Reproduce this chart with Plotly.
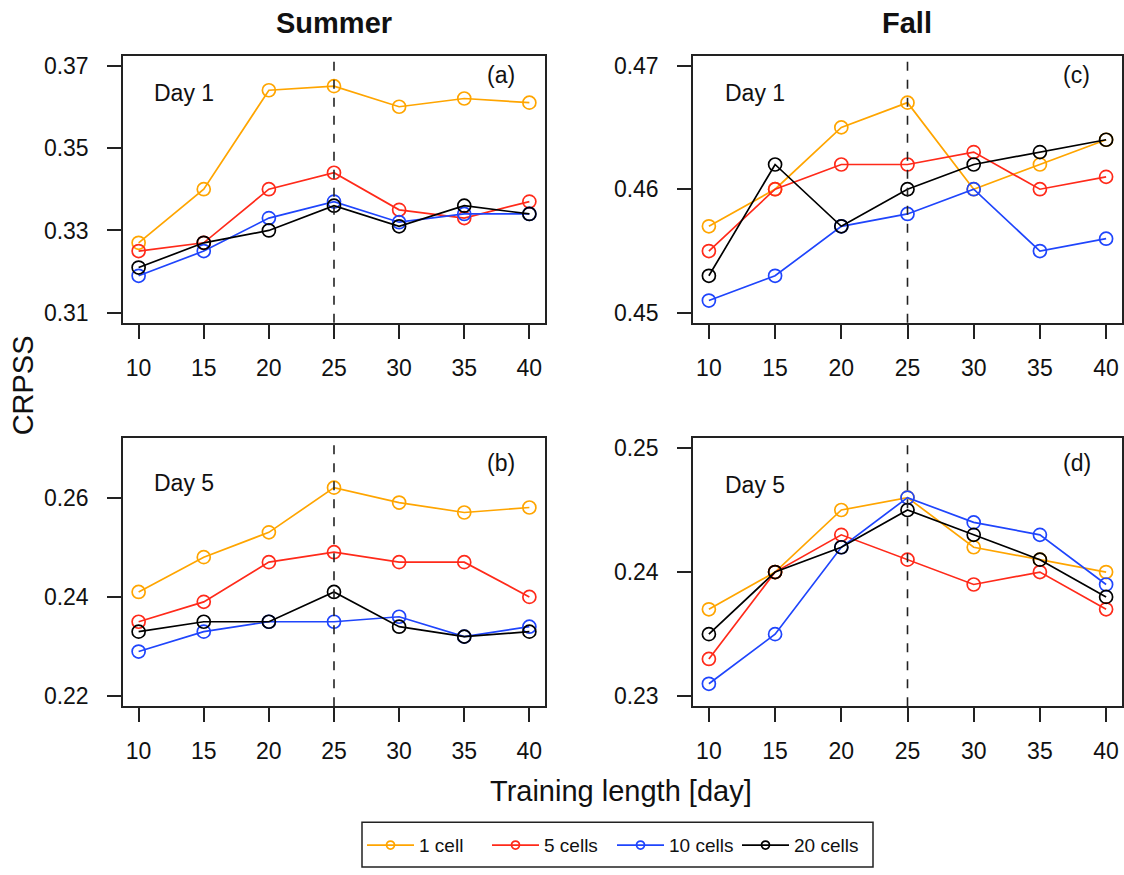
import plotly.graph_objects as go

training_days = [10, 15, 20, 25, 30, 35, 40]
series_names = ["1 cell", "5 cells", "10 cells", "20 cells"]
series_colors = ["#FFA500", "#FF2A1A", "#1F45FC", "#000000"]

# Summer, Day 1 (a)
summer_day1_1cell = [0.327, 0.340, 0.364, 0.365, 0.360, 0.362, 0.361]
summer_day1_5cells = [0.325, 0.327, 0.340, 0.344, 0.335, 0.333, 0.337]
summer_day1_10cells = [0.319, 0.325, 0.333, 0.337, 0.332, 0.334, 0.334]
summer_day1_20cells = [0.321, 0.327, 0.330, 0.336, 0.331, 0.336, 0.334]

# Summer, Day 5 (b)
summer_day5_1cell = [0.241, 0.248, 0.253, 0.262, 0.259, 0.257, 0.258]
summer_day5_5cells = [0.235, 0.239, 0.247, 0.249, 0.247, 0.247, 0.240]
summer_day5_10cells = [0.229, 0.233, 0.235, 0.235, 0.236, 0.232, 0.234]
summer_day5_20cells = [0.233, 0.235, 0.235, 0.241, 0.234, 0.232, 0.233]

# Fall, Day 1 (c)
fall_day1_1cell = [0.457, 0.460, 0.465, 0.467, 0.460, 0.462, 0.464]
fall_day1_5cells = [0.455, 0.460, 0.462, 0.462, 0.463, 0.460, 0.461]
fall_day1_10cells = [0.451, 0.453, 0.457, 0.458, 0.460, 0.455, 0.456]
fall_day1_20cells = [0.453, 0.462, 0.457, 0.460, 0.462, 0.463, 0.464]

# Fall, Day 5 (d)
fall_day5_1cell = [0.237, 0.240, 0.245, 0.246, 0.242, 0.241, 0.240]
fall_day5_5cells = [0.233, 0.240, 0.243, 0.241, 0.239, 0.240, 0.237]
fall_day5_10cells = [0.231, 0.235, 0.242, 0.246, 0.244, 0.243, 0.239]
fall_day5_20cells = [0.235, 0.240, 0.242, 0.245, 0.243, 0.241, 0.238]

x_ticks = [10, 15, 20, 25, 30, 35, 40]
yticks_a = [0.31, 0.33, 0.35, 0.37]
yticks_b = [0.22, 0.24, 0.26]
yticks_c = [0.45, 0.46, 0.47]
yticks_d = [0.23, 0.24, 0.25]
best_training_length = 25

FONT = "Liberation Sans, Arial, sans-serif"
W, H = 1124, 875

panels = [
    ("a", [summer_day1_1cell, summer_day1_5cells, summer_day1_10cells, summer_day1_20cells],
     yticks_a, [0.3076, 0.3724], [123/W, 545/W], [1-322/H, 1-53/H], "Day 1", "(a)", 0.862, 0.926),
    ("b", [summer_day5_1cell, summer_day5_5cells, summer_day5_10cells, summer_day5_20cells],
     yticks_b, [0.218, 0.272], [123/W, 545/W], [1-708/H, 1-438/H], "Day 5", "(b)", 0.833, 0.907),
    ("c", [fall_day1_1cell, fall_day1_5cells, fall_day1_10cells, fall_day1_20cells],
     yticks_c, [0.4492, 0.4708], [693/W, 1122/W], [1-322/H, 1-53/H], "Day 1", "(c)", 0.862, 0.926),
    ("d", [fall_day5_1cell, fall_day5_5cells, fall_day5_10cells, fall_day5_20cells],
     yticks_d, [0.2292, 0.2508], [693/W, 1122/W], [1-708/H, 1-438/H], "Day 5", "(d)", 0.826, 0.907),
]

fig = go.Figure()
layout = {}
annotations = []
shapes = []

for i, (key, data, yt, yr, xdom, ydom, daylab, plab, dy, py) in enumerate(panels):
    n = i + 1
    xa = "x" if n == 1 else f"x{n}"
    ya = "y" if n == 1 else f"y{n}"
    for j, (name, color) in enumerate(zip(series_names, series_colors)):
        fig.add_trace(go.Scatter(
            x=training_days, y=data[j], mode="lines+markers", name=name,
            xaxis=xa, yaxis=ya, showlegend=False,
            line=dict(color=color, width=1.7),
            marker=dict(symbol="circle-open", size=13, color=color, line=dict(width=1.7, color=color)),
        ))
    axis_common = dict(
        showline=True, mirror=True, linecolor="#222", linewidth=1.5,
        ticks="outside", ticklen=14, tickwidth=1.5, tickcolor="#222",
        showgrid=False, zeroline=False,
        tickfont=dict(family=FONT, size=23, color="#111"),
    )
    layout["xaxis" if n == 1 else f"xaxis{n}"] = dict(
        axis_common, domain=xdom, range=[8.8, 41.2], tickvals=x_ticks,
        anchor=ya, ticklabelstandoff=10,
    )
    layout["yaxis" if n == 1 else f"yaxis{n}"] = dict(
        axis_common, domain=ydom, range=yr, tickvals=yt, tickformat=".2f",
        anchor=xa, ticklabelstandoff=14,
    )
    shapes.append(dict(type="line", xref=xa, yref=f"{ya} domain",
                       x0=best_training_length, x1=best_training_length, y0=0, y1=1,
                       line=dict(color="#222", width=1.6, dash="dash")))
    annotations.append(dict(text=daylab, xref=f"{xa} domain", yref=f"{ya} domain",
                            x=0.145, y=dy, showarrow=False, xanchor="center", yanchor="middle",
                            font=dict(family=FONT, size=23, color="#111")))
    annotations.append(dict(text=plab, xref=f"{xa} domain", yref=f"{ya} domain",
                            x=0.895, y=py, showarrow=False, xanchor="center", yanchor="middle",
                            font=dict(family=FONT, size=23, color="#111")))

# legend-only entries (small markers as in the reference legend)
for name, color in zip(series_names, series_colors):
    fig.add_trace(go.Scatter(
        x=[None], y=[None], mode="lines+markers", name=name, showlegend=True,
        line=dict(color=color, width=1.7),
        marker=dict(symbol="circle-open", size=8, color=color, line=dict(width=1.7, color=color)),
    ))

annotations += [
    dict(text="<b>Summer</b>", xref="paper", yref="paper", x=334/W, y=1-20/H,
         xanchor="center", yanchor="middle",
         showarrow=False, font=dict(family=FONT, size=29, color="#111")),
    dict(text="<b>Fall</b>", xref="paper", yref="paper", x=907/W, y=1-20/H,
         xanchor="center", yanchor="middle",
         showarrow=False, font=dict(family=FONT, size=29, color="#111")),
    dict(text="CRPSS", xref="paper", yref="paper", x=23/W, y=1-385/H, textangle=-90,
         xanchor="center", yanchor="middle",
         showarrow=False, font=dict(family=FONT, size=29, color="#111")),
    dict(text="Training length [day]", xref="paper", yref="paper", x=621/W, y=1-793/H,
         xanchor="center", yanchor="middle",
         showarrow=False, font=dict(family=FONT, size=29, color="#111")),
]

# legend frame
shapes.append(dict(type="rect", xref="paper", yref="paper",
                   x0=362/W, x1=873/W, y0=1-870/H, y1=1-825/H,
                   line=dict(color="#222", width=1.5), fillcolor="rgba(0,0,0,0)"))

fig.update_layout(
    width=W, height=H,
    margin=dict(l=0, r=0, t=0, b=0),
    paper_bgcolor="white", plot_bgcolor="white",
    showlegend=True,
    legend=dict(orientation="h", x=362/W, y=1-848/H, xanchor="left", yanchor="middle",
                borderwidth=0, bgcolor="rgba(0,0,0,0)",
                font=dict(family=FONT, size=19, color="#111"),
                itemwidth=47,
                entrywidthmode="pixels", entrywidth=63),
    annotations=annotations, shapes=shapes,
    **layout,
)

fig.write_html("out.html")
